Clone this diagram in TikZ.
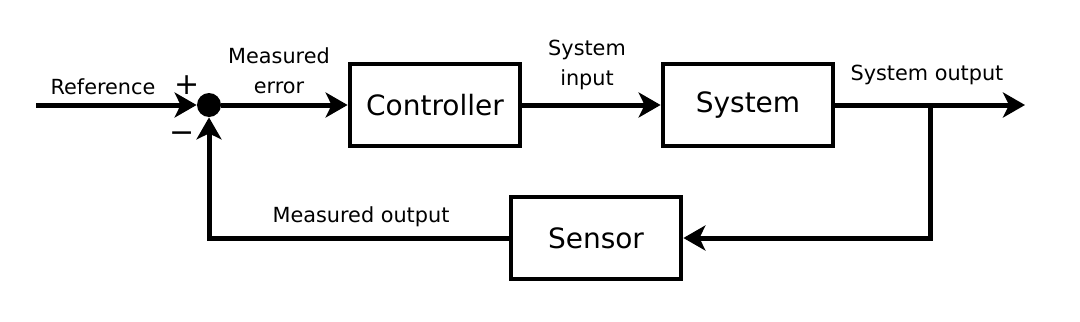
\documentclass[tikz,border=0pt]{standalone}
\usepackage{fontspec}
\setmainfont{DejaVu Sans}
\usetikzlibrary{arrows.meta,positioning,calc}

\tikzset{
  block/.style={draw, line width=2.4pt, minimum width=85pt, minimum height=41pt,
    inner sep=0pt, font=\fontsize{14}{16}\selectfont},
  sig/.style={line width=2.5pt, -{Stealth[length=11pt,width=12.5pt,inset=3pt]}},
  lbl/.style={inner sep=0pt, align=center, font=\fontsize{10.4}{15.2}\selectfont},
  signlbl/.style={inner sep=0pt, font=\fontsize{15}{16}\selectfont},
  junction/.style={circle, fill, inner sep=0pt, minimum size=12pt}
}

\begin{document}
\begin{tikzpicture}[x=0.5pt,y=-0.5pt]
  \useasboundingbox (0,0) rectangle (1080,321);

  % blocks
  \node[block] (ctrl) at (435,105) {Controller};
  \node[block] (sys) at (748,105) {System};
  \node[block] (sens) at (596,238) {Sensor};
  \node[junction] (sum) at (209,105) {};

  \coordinate (in) at (36,105);
  \coordinate (tap) at (930,105);
  \coordinate (out) at (1025,105);

  % signals
  \draw[sig] (in) -- (sum);
  \draw[sig] (sum) -- (ctrl);
  \draw[sig] (ctrl) -- (sys);
  \draw[sig] (sys) -- (out);
  \draw[sig] (tap) |- (sens);
  \draw[sig] (sens) -| (sum);

  % labels
  \node[lbl] (reflbl) at (103,87) {Reference};
  \node[signlbl] (plus) at (187,85) {+};
  \node[signlbl] (minus) at (182,137) {−};
  \node[lbl] (errlbl) at (279,71) {Measured\\error};
  \node[lbl] (inlbl) at (587,65) {System\\input};
  \node[lbl] (outlbl) at (927,75) {System output};
  \node[lbl] (measlbl) at (361,217) {Measured output};
\end{tikzpicture}
\end{document}
